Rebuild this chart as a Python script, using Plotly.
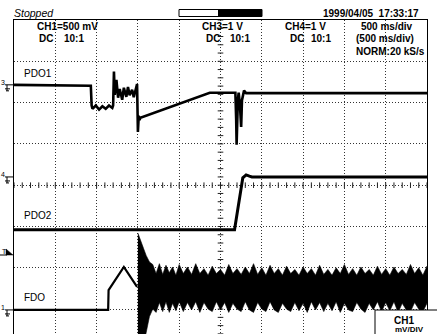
import plotly.graph_objects as go

# ---------------- acquisition settings ----------------
T_DIV = 0.5                 # s / div (500 ms/div)
N_XDIV, N_YDIV = 10, 8
CH1_VDIV = 0.5              # FDO,  500 mV/div
CH3_VDIV = 1.0              # PDO1, 1 V/div
CH4_VDIV = 1.0              # PDO2, 1 V/div

# ground reference / trigger positions, in divisions above the screen bottom
CH1_POS, CH3_POS, CH4_POS = 0.98, 6.43, 4.20
TRIG_POS = 2.31

# ---------------- waveforms (time in s, level in V) ----------------
pdo1_t = [0.00, 0.55, 0.93, 0.94, 0.95, 0.99, 1.03, 1.07, 1.11, 1.15,
          1.19, 1.20, 1.21, 1.22, 1.24, 1.26, 1.28, 1.31, 1.33, 1.36,
          1.38, 1.40, 1.43, 1.45, 1.48, 1.49, 1.50, 1.51, 1.52, 1.53,
          2.37, 2.43, 2.68, 2.69, 2.695, 2.71, 2.72, 2.735, 2.75, 2.76,
          2.785, 2.81, 5.00]
pdo1_v = [0.00, -0.02, -0.02, -0.50, -0.58, -0.50, -0.60, -0.52, -0.58, -0.50,
          -0.56, -0.50, 0.32, -0.24, 0.12, -0.31, -0.10, -0.36, -0.07, -0.29,
          -0.05, -0.25, -0.12, -0.30, -0.08, 0.02, -1.14, -0.75, -0.85, -0.80,
          -0.19, -0.19, -0.19, -0.85, -1.45, -0.37, -0.19, -0.48, -1.02, -0.37,
          -0.14, -0.20, -0.20]

pdo2_t = [0.00, 2.67, 2.77, 2.81, 2.85, 2.88, 5.00]
pdo2_v = [-1.28, -1.28, -0.02, 0.05, 0.02, 0.00, 0.00]

fdo_t = [0.00, 1.14, 1.145, 1.33, 1.49]
fdo_v = [0.00, 0.00, 0.24, 0.52, 0.28]

# FDO oscillation burst: upper / lower envelope of the band
burst_t = [1.50, 1.51, 1.53, 1.55, 1.57, 1.60, 1.64, 1.68, 1.72, 1.76,
           1.80, 1.84, 1.88, 1.92, 1.96, 2.00, 2.05, 2.10, 2.15, 2.20,
           2.25, 2.30, 2.35, 2.40, 2.45, 2.50, 2.55, 2.60, 2.65, 2.70,
           2.75, 2.80, 2.85, 2.90, 2.95, 3.00, 3.05, 3.10, 3.15, 3.20,
           3.25, 3.30, 3.35, 3.40, 3.45, 3.50, 3.55, 3.60, 3.65, 3.70,
           3.75, 3.80, 3.85, 3.90, 3.95, 4.00, 4.05, 4.10, 4.15, 4.20,
           4.25, 4.30, 4.35, 4.40, 4.45, 4.50, 4.55, 4.60, 4.65, 4.70,
           4.75, 4.80, 4.85, 4.90, 4.95, 5.00]
burst_hi = [0.93, 0.90, 0.84, 0.80, 0.74, 0.66, 0.58, 0.55, 0.44, 0.56,
            0.43, 0.54, 0.45, 0.52, 0.42, 0.55, 0.44, 0.52, 0.43, 0.56,
            0.44, 0.50, 0.42, 0.53, 0.44, 0.49, 0.42, 0.55, 0.44, 0.50,
            0.43, 0.52, 0.44, 0.56, 0.43, 0.51, 0.42, 0.54, 0.44, 0.50,
            0.42, 0.53, 0.44, 0.49, 0.42, 0.52, 0.44, 0.50, 0.42, 0.54,
            0.43, 0.49, 0.42, 0.51, 0.44, 0.55, 0.43, 0.50, 0.42, 0.52,
            0.44, 0.49, 0.42, 0.53, 0.43, 0.50, 0.42, 0.52, 0.44, 0.49,
            0.43, 0.55, 0.44, 0.51, 0.42, 0.53]
burst_lo = [-0.45, -0.45, -0.45, -0.45, -0.42, -0.30, -0.08, 0.01, -0.03, 0.09,
            -0.02, 0.10, -0.03, 0.08, -0.01, 0.10, -0.02, 0.09, 0.00, 0.10,
            -0.03, 0.09, 0.01, -0.02, 0.10, 0.00, 0.09, -0.03, 0.08, 0.01,
            -0.02, 0.10, 0.00, -0.03, 0.09, 0.01, -0.02, 0.10, 0.00, -0.03,
            0.08, 0.01, -0.02, 0.09, -0.01, 0.08, -0.03, 0.10, 0.00, 0.09,
            -0.02, 0.08, -0.01, 0.10, -0.03, 0.08, 0.00, -0.02, 0.09, 0.01,
            -0.03, 0.08, 0.00, 0.10, -0.02, 0.09, -0.01, 0.10, -0.03, 0.08,
            0.00, -0.02, 0.09, 0.01, -0.02, 0.08]

# ---------------- screen geometry ----------------
W, H = 437, 334
X0, X1, Y_TOP = 14, 427, 20          # graticule frame edges (px)
DIV_PX = (X1 - X0) / N_XDIV
Y_LO = N_YDIV - (H - Y_TOP) / DIV_PX  # lowest visible division


def to_div(volts, pos, vdiv):
    return [pos + v / vdiv for v in volts]


def px(x):
    return x / W


def py(y):
    return 1 - y / H


INK = "black"
fig = go.Figure()

# centre graticule ticks
t_ticks = [i * T_DIV / 5 for i in range(N_XDIV * 5 + 1)]
fig.add_trace(go.Scatter(x=t_ticks, y=[N_YDIV / 2] * len(t_ticks), mode="markers",
                         marker=dict(symbol="line-ns", size=4, line=dict(width=1, color="#222")),
                         hoverinfo="skip", showlegend=False))
y_ticks = [i / 5 for i in range(2, N_YDIV * 5 + 1)]
fig.add_trace(go.Scatter(x=[N_XDIV * T_DIV / 2] * len(y_ticks), y=y_ticks, mode="markers",
                         marker=dict(symbol="line-ew", size=4, line=dict(width=1, color="#222")),
                         hoverinfo="skip", showlegend=False))

# FDO burst band
band_x = burst_t + burst_t[::-1]
band_y = to_div(burst_hi + burst_lo[::-1], CH1_POS, CH1_VDIV)
fig.add_trace(go.Scatter(x=band_x, y=band_y, mode="lines", fill="toself",
                         fillcolor=INK, line=dict(color=INK, width=0.6),
                         hoverinfo="skip", showlegend=False))

# waveform traces
for tt, vv, pos, vdiv, w in [(fdo_t, fdo_v, CH1_POS, CH1_VDIV, 2.2),
                             (pdo2_t, pdo2_v, CH4_POS, CH4_VDIV, 3.0),
                             (pdo1_t, pdo1_v, CH3_POS, CH3_VDIV, 2.6)]:
    fig.add_trace(go.Scatter(x=tt, y=to_div(vv, pos, vdiv), mode="lines",
                             line=dict(color=INK, width=w),
                             hoverinfo="skip", showlegend=False))

# ---------------- annotations ----------------
ann = []


def text(s, x, y, size=10, anchor="left", bold=True, italic=False, yanchor="middle"):
    if bold:
        s = f"<b>{s}</b>"
    if italic:
        s = f"<i>{s}</i>"
    ann.append(dict(text=s, x=px(x), y=py(y), xref="paper", yref="paper",
                    xanchor=anchor, yanchor=yanchor, showarrow=False,
                    font=dict(family="Liberation Sans, Arial, sans-serif", size=size, color=INK)))


text("Stopped", 12, 13, size=10.5, bold=False, italic=True)
text("1999/04/05  17:33:17".replace("  ", "\u00a0\u00a0"), 421, 13, anchor="right")
text("CH1=500 mV", 35, 26)
text("DC", 37, 38)
text("10:1", 62, 38)
text("CH3=1 V", 200, 26)
text("DC", 204, 38)
text("10:1", 228, 38)
text("CH4=1 V", 283, 26)
text("DC", 288, 38)
text("10:1", 309, 38)
text("500 ms/div", 359, 26)
text("(500 ms/div)", 354, 38)
text("NORM:20 kS/s", 354, 51)
text("PDO1", 22, 73, bold=False)
text("PDO2", 22, 215, bold=False)
text("FDO", 22, 297, bold=False)
text("CH1", 392, 320)
text("mV/DIV", 426, 329.5, size=8, anchor="right")

shapes = []
# progress bar
shapes.append(dict(type="rect", xref="paper", yref="paper", x0=px(179), x1=px(262),
                   y0=py(16.5), y1=py(9.5), line=dict(color=INK, width=1), fillcolor="white"))
shapes.append(dict(type="rect", xref="paper", yref="paper", x0=px(218), x1=px(262),
                   y0=py(16.5), y1=py(9.5), line=dict(width=0), fillcolor=INK))

# channel ground markers
for label, pos in [("3", CH3_POS), ("4", CH4_POS), ("1", CH1_POS)]:
    ann.append(dict(text=label, x=px(3), y=pos + 2 / DIV_PX, xref="paper", yref="y",
                    xanchor="center", yanchor="middle", showarrow=False,
                    font=dict(family="Liberation Sans, Arial", size=7, color=INK)))
    d = 1 / DIV_PX
    for (xa, ya, xb, yb) in [(5, 0, 13, 0), (7, 0, 7, -6), (5, -4, 10, -4), (6, -6, 9, -6)]:
        shapes.append(dict(type="line", xref="paper", yref="y", x0=px(xa), x1=px(xb),
                           y0=pos + ya * d, y1=pos + yb * d, line=dict(color=INK, width=1)))

# trigger level marker
d = 1 / DIV_PX
ann.append(dict(text="T", x=px(4), y=TRIG_POS + 3.5 * d, xref="paper", yref="y",
                xanchor="center", yanchor="middle", showarrow=False,
                font=dict(family="Liberation Sans, Arial", size=7, color=INK)))
shapes.append(dict(type="line", xref="paper", yref="y", x0=px(0), x1=px(7),
                   y0=TRIG_POS, y1=TRIG_POS, line=dict(color=INK, width=1)))
shapes.append(dict(type="path", xref="paper", yref="y",
                   path=f"M {px(6)},{TRIG_POS + 6 * d} L {px(6)},{TRIG_POS} L {px(13)},{TRIG_POS} Z",
                   fillcolor=INK, line=dict(color=INK, width=0.5)))

# channel readout box, lower right
shapes.append(dict(type="rect", xref="paper", yref="paper", x0=px(375), x1=px(440),
                   y0=py(340), y1=py(310), line=dict(color=INK, width=1), fillcolor="white",
                   layer="above"))

fig.update_layout(
    width=W, height=H, margin=dict(l=0, r=0, t=0, b=0, pad=0),
    paper_bgcolor="white", plot_bgcolor="white",
    annotations=ann, shapes=shapes,
    xaxis=dict(domain=[px(X0), px(X1)], range=[0, N_XDIV * T_DIV],
               tickvals=[i * T_DIV for i in range(1, N_XDIV)],
               showgrid=True, gridcolor="#333", gridwidth=1, griddash="1px,2px",
               showticklabels=False, ticks="", zeroline=False,
               showline=True, linecolor=INK, linewidth=1, side="top", mirror=False),
    yaxis=dict(domain=[0, py(Y_TOP)], range=[Y_LO, N_YDIV],
               tickvals=list(range(1, N_YDIV)),
               showgrid=True, gridcolor="#333", gridwidth=1, griddash="1px,2px",
               showticklabels=False, ticks="", zeroline=False,
               showline=True, linecolor=INK, linewidth=1, mirror=True),
)

fig.write_html("out.html")
